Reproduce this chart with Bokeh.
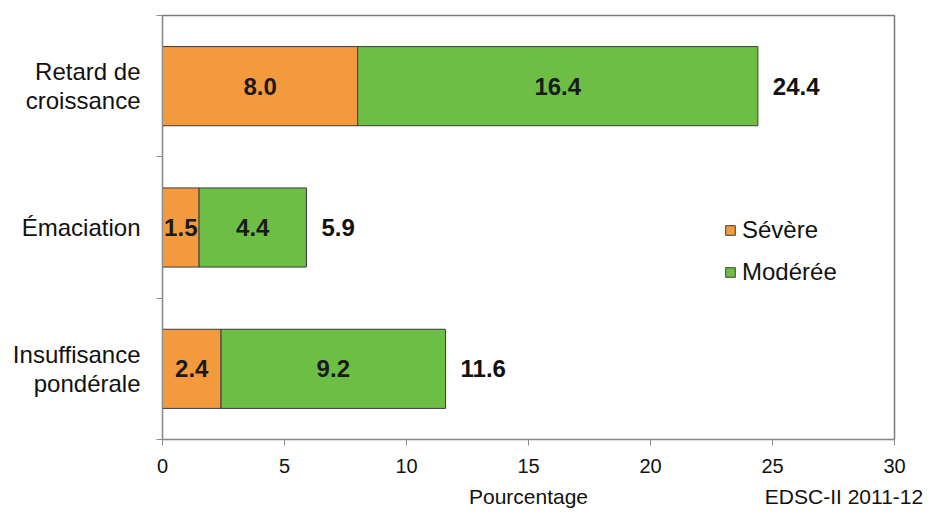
from bokeh.plotting import figure
from bokeh.models import Range1d, FixedTicker, LinearAxis, ColumnDataSource
from bokeh.core.properties import value
from bokeh.embed import file_html
from bokeh.resources import INLINE

categories = ["Retard de\ncroissance", "Émaciation", "Insuffisance\npondérale"]
severe = [8.0, 1.5, 2.4]
moderate = [16.4, 4.4, 9.2]
x_ticks = [0, 5, 10, 15, 20, 25, 30]
x_title = "Pourcentage"
source_note = "EDSC-II  2011-12"

FONT = value("Liberation Sans")
n = len(categories)
ypos = [n - i - 0.5 for i in range(n)]
totals = [round(s + m, 1) for s, m in zip(severe, moderate)]

src = ColumnDataSource(dict(
    y=ypos,
    sev=severe,
    mod=moderate,
    tot=totals,
    sev_mid=[s / 2 for s in severe],
    mod_mid=[s + m / 2 for s, m in zip(severe, moderate)],
    sev_lbl=["%.1f" % s for s in severe],
    mod_lbl=["%.1f" % m for m in moderate],
    tot_lbl=["%.1f" % t for t in totals],
))

p = figure(width=931, height=517, output_backend="svg", toolbar_location=None,
           x_range=Range1d(0, 30), y_range=Range1d(0, n),
           min_border_left=162, min_border_right=37, min_border_top=15, min_border_bottom=78)
p.background_fill_color = "white"
p.border_fill_color = "white"
p.outline_line_color = "#7a7a7a"
p.outline_line_width = 1.5
p.xgrid.visible = False
p.ygrid.visible = False

p.hbar(y="y", left=0, right="sev", height=0.56, source=src,
       fill_color="#F39A3E", line_color="#3c3c3c", line_width=1, legend_label="Sévère")
p.hbar(y="y", left="sev", right="tot", height=0.56, source=src,
       fill_color="#6DBE45", line_color="#3c3c3c", line_width=1, legend_label="Modérée")

common = dict(source=src, text_font=FONT, text_font_style="bold", text_font_size="24px",
              text_baseline="middle")
p.text(x="sev_mid", y="y", text="sev_lbl", text_align="center", text_color="#1a1a1a", **common)
p.text(x="mod_mid", y="y", text="mod_lbl", text_align="center", text_color="#1a1a1a", **common)
p.text(x="tot", y="y", text="tot_lbl", text_align="left", x_offset=15, text_color="#111111", **common)

# x axis (ticks and numbers)
xa = p.xaxis[0]
xa.ticker = FixedTicker(ticks=x_ticks)
xa.minor_tick_line_color = None
xa.major_tick_out = 6
xa.major_tick_in = 0
xa.axis_line_color = "#8a8a8a"
xa.major_tick_line_color = "#8a8a8a"
xa.major_label_text_font = "Liberation Sans"
xa.major_label_text_font_size = "20px"
xa.major_label_text_color = "#111111"
xa.major_label_standoff = 13

# second x axis row: axis title and source note on one line
note_axis = LinearAxis(ticker=FixedTicker(ticks=[15, 28.05]),
                       major_label_overrides={15: x_title, 28.05: source_note})
note_axis.axis_line_color = None
note_axis.major_tick_line_color = None
note_axis.minor_tick_line_color = None
note_axis.major_tick_out = 0
note_axis.major_tick_in = 0
note_axis.major_label_text_font = "Liberation Sans"
note_axis.major_label_text_font_size = "21px"
note_axis.major_label_text_color = "#111111"
note_axis.major_label_standoff = 9
p.add_layout(note_axis, "below")

# y axis: boundary ticks only
ya = p.yaxis[0]
ya.ticker = FixedTicker(ticks=list(range(n + 1)))
ya.minor_tick_line_color = None
ya.major_tick_out = 6
ya.major_tick_in = 0
ya.axis_line_color = "#8a8a8a"
ya.major_tick_line_color = "#8a8a8a"
ya.major_label_text_font_size = "1px"
ya.major_label_text_color = None
ya.major_label_standoff = 0

# y axis: category labels
cat_axis = LinearAxis(ticker=FixedTicker(ticks=ypos),
                      major_label_overrides={y: c for y, c in zip(ypos, categories)})
cat_axis.axis_line_color = None
cat_axis.major_tick_line_color = None
cat_axis.minor_tick_line_color = None
cat_axis.major_label_text_font = "Liberation Sans"
cat_axis.major_label_text_font_size = "24px"
cat_axis.major_label_text_color = "#111111"
cat_axis.major_label_text_line_height = 1.05
cat_axis.major_label_standoff = 10
p.add_layout(cat_axis, "left")

# legend
lg = p.legend[0]
lg.location = (562, 153)
lg.background_fill_alpha = 0
lg.border_line_color = None
lg.label_text_font = "Liberation Sans"
lg.label_text_font_size = "24px"
lg.label_text_color = "#111111"
lg.glyph_width = 12
lg.glyph_height = 12
lg.label_height = 28
lg.spacing = 14
lg.padding = 0
lg.margin = 0
lg.label_standoff = 6

open("out.html", "w").write(file_html(p, INLINE))
